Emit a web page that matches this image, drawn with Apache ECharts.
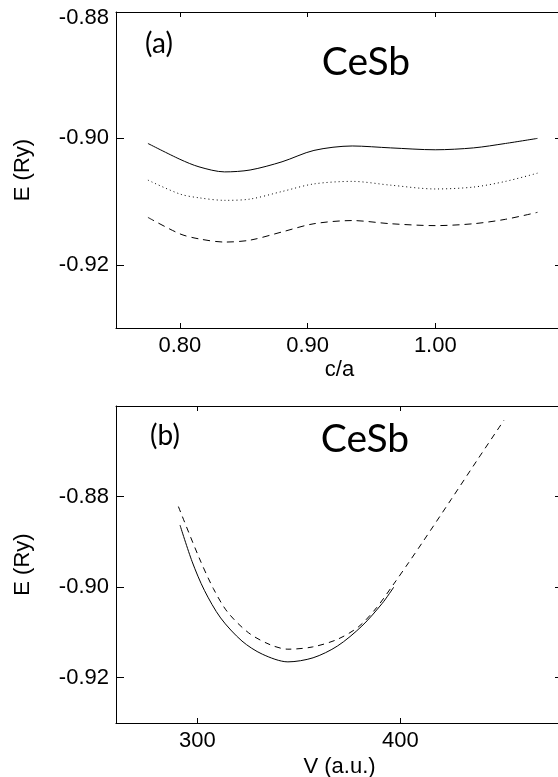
<!DOCTYPE html>
<html><head><meta charset="utf-8">
<script src="https://cdn.jsdelivr.net/npm/echarts@6.0.0/dist/echarts.min.js"></script>
<style>html,body{margin:0;padding:0;background:#fff;}#c{width:558px;height:777px;}</style>
</head><body><div id="c"></div>
<script>
// Panel (a): E vs c/a
const caA = [0.775, 0.80, 0.815, 0.835, 0.855, 0.88, 0.905, 0.935, 0.965, 1.00, 1.03, 1.055, 1.08];
const eSolidA  = [-0.9008, -0.9033, -0.9045, -0.9053, -0.9050, -0.9037, -0.9019, -0.9012, -0.9015, -0.9018, -0.9015, -0.9008, -0.9000];
const eDottedA = [-0.9066, -0.9088, -0.9094, -0.9098, -0.9096, -0.9084, -0.9072, -0.9068, -0.9074, -0.9080, -0.9077, -0.9068, -0.9055];
const eDashedA = [-0.9125, -0.9151, -0.9159, -0.9164, -0.9161, -0.9148, -0.9135, -0.9130, -0.9135, -0.9138, -0.9135, -0.9128, -0.9117];
const xTicksA = [0.80, 0.90, 1.00];
const yTicksA = [-0.92, -0.90, -0.88];

// Panel (b): E vs V
const vSolidB = [291.5, 297.5, 303.5, 311.5, 322, 332, 344.6, 357, 369, 381, 391, 396.7];
const eSolidB = [-0.8863, -0.8944, -0.9007, -0.9068, -0.9119, -0.9148, -0.9165, -0.9156, -0.9130, -0.9086, -0.9036, -0.9000];
const vDashedB = [290.7, 300.9, 307.9, 314.9, 325.3, 335.8, 344.6, 356.8, 369.1, 379.5, 388.3, 396.7, 404.0, 411.0, 425, 438, 451];
const eDashedB = [-0.8822, -0.8935, -0.9003, -0.9055, -0.9101, -0.9127, -0.9137, -0.9132, -0.9115, -0.9087, -0.9045, -0.8993, -0.8946, -0.8900, -0.8806, -0.8718, -0.8631];
const xTicksB = [300, 400];
const yTicksB = [-0.92, -0.90, -0.88];

const zip = (xs, ys) => xs.map((x, i) => [x, ys[i]]);
const FONT = 'Liberation Sans';
const LBL = {fontFamily: FONT, fontSize: 22, color: '#000'};

function xAxes(gi, min, max, ticks, name, gap) {
  return [
    {gridIndex: gi, type: 'value', min, max, position: 'bottom',
     name, nameLocation: 'middle', nameGap: gap, nameTextStyle: LBL,
     axisLine: {show: true, lineStyle: {color: '#000', width: 1.2}},
     axisTick: {show: true, inside: true, length: 5, customValues: ticks, lineStyle: {color: '#000'}},
     axisLabel: Object.assign({show: true, margin: 7, customValues: ticks, formatter: v => Number(v).toFixed(min > 100 ? 0 : 2)}, LBL),
     splitLine: {show: false}},
    {gridIndex: gi, type: 'value', min, max, position: 'top',
     axisLine: {show: true, lineStyle: {color: '#000', width: 1}},
     axisTick: {show: true, inside: true, length: 5, customValues: ticks, lineStyle: {color: '#000'}},
     axisLabel: {show: false}, splitLine: {show: false}}
  ];
}
function yAxes(gi, min, max, ticks, shiftTop) {
  return [
    {gridIndex: gi, type: 'value', min, max, position: 'left',
     name: 'E (Ry)', nameLocation: 'middle', nameGap: 82, nameTextStyle: LBL,
     axisLine: {show: true, lineStyle: {color: '#000', width: 1}},
     axisTick: {show: true, inside: true, length: 8, customValues: ticks, lineStyle: {color: '#000'}},
     axisLabel: Object.assign({show: true, margin: 7, showMaxLabel: true, customValues: ticks,
       formatter: v => {
         const s = Number(v).toFixed(2);
         return (shiftTop && Math.abs(v - max) < 1e-6) ? '{lo|' + s + '}' : s;
       },
       rich: {lo: Object.assign({padding: [12, 0, 0, 0]}, LBL)}}, LBL),
     splitLine: {show: false}},
    {gridIndex: gi, type: 'value', min, max, position: 'right',
     axisLine: {show: true, lineStyle: {color: '#000', width: 1}},
     axisTick: {show: true, inside: true, length: 8, customValues: ticks, lineStyle: {color: '#000'}},
     axisLabel: {show: false}, splitLine: {show: false}}
  ];
}
function ser(xi, yi, data, type) {
  return {type: 'line', xAxisIndex: xi, yAxisIndex: yi, data, smooth: 0.3, showSymbol: false,
    silent: true, animation: false, lineStyle: {color: '#000', width: 1, type}};
}

const chart = echarts.init(document.getElementById('c'), null, {renderer: 'canvas'});
chart.setOption({
  animation: false,
  backgroundColor: '#fff',
  grid: [
    {left: 116, top: 12, width: 447, height: 316, containLabel: false, outerBoundsMode: 'none'},
    {left: 116, top: 406, width: 447, height: 317, containLabel: false, outerBoundsMode: 'none'}
  ],
  xAxis: [...xAxes(0, 0.75, 1.10, xTicksA, 'c/a', 31), ...xAxes(1, 260, 480, xTicksB, 'V (a.u.)', 33)],
  yAxis: [...yAxes(0, -0.93, -0.88, yTicksA, true), ...yAxes(1, -0.93, -0.86, yTicksB, false)],
  series: [
    ser(0, 0, zip(caA, eSolidA), 'solid'),
    ser(0, 0, zip(caA, eDottedA), [1, 3]),
    ser(0, 0, zip(caA, eDashedA), [7, 5]),
    ser(2, 2, zip(vSolidB, eSolidB), 'solid'),
    ser(2, 2, zip(vDashedB, eDashedB), [6, 5])
  ],
  graphic: [
    {type: 'text', x: 159, y: 44, style: {text: '(a)', font: '28px Lato', fill: '#000', textAlign: 'center', textVerticalAlign: 'middle'}},
    {type: 'text', x: 366, y: 62, style: {text: 'CeSb', font: '39px Lato', fill: '#000', textAlign: 'center', textVerticalAlign: 'middle'}},
    {type: 'text', x: 165, y: 436, style: {text: '(b)', font: '28px Lato', fill: '#000', textAlign: 'center', textVerticalAlign: 'middle'}},
    {type: 'text', x: 365, y: 439, style: {text: 'CeSb', font: '39px Lato', fill: '#000', textAlign: 'center', textVerticalAlign: 'middle'}}
  ]
});
</script>
</body></html>
